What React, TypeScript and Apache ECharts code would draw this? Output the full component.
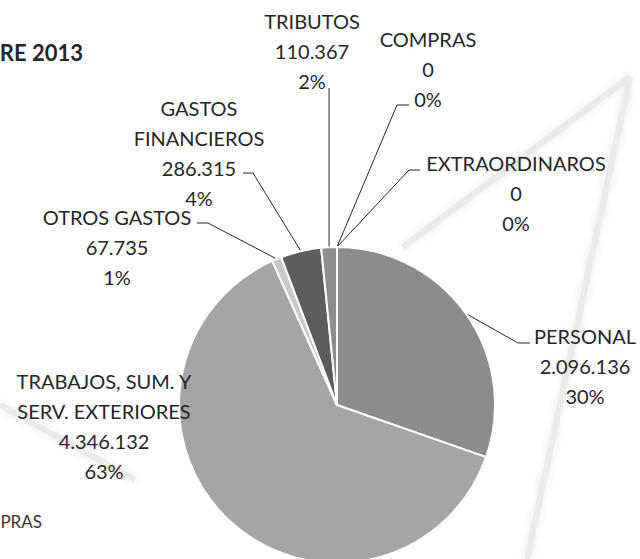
import React, { useEffect, useRef } from "react";
import * as echarts from "echarts";

// ---- data ----
const categories = [
  "PERSONAL",
  "TRABAJOS, SUM. Y\nSERV. EXTERIORES",
  "OTROS GASTOS",
  "GASTOS\nFINANCIEROS",
  "TRIBUTOS",
  "COMPRAS",
  "EXTRAORDINAROS",
];
const values = [2096136, 4346132, 67735, 286315, 110367, 0, 0];

// ---- styles / layout ----
const sliceColors = ["#8c8c8c", "#a5a5a5", "#c9c9c9", "#5d5d5d", "#8e8e8e", "#7a7a7a", "#6a6a6a"];
type Anchor = { x: number; y: number; bend?: number[]; end?: number[]; vertical?: number };
const labelAnchors: Anchor[] = [
  { x: 585, y: 366, bend: [518, 343], end: [530, 343] },
  { x: 104, y: 426 },
  { x: 117, y: 247, bend: [208, 223], end: [197, 223] },
  { x: 199, y: 153, bend: [253, 173], end: [243, 173] },
  { x: 312, y: 51, vertical: 88 },
  { x: 428, y: 69, bend: [397, 105], end: [409, 105] },
  { x: 516, y: 193, bend: [409, 170], end: [420, 170] },
];

const fmt = (n: number) => String(n).replace(/\B(?=(\d{3})+(?!\d))/g, ".");
const FONT = "Lato";

export default function App() {
  const ref = useRef<HTMLDivElement>(null);
  useEffect(() => {
    if (!ref.current) return;
    const chart = echarts.init(ref.current, undefined, { renderer: "svg" });
    const wm = { stroke: "#ebebeb", lineWidth: 6, shadowBlur: 8, shadowColor: "#e8e8e8" };
    chart.setOption({
      animation: false,
      backgroundColor: "#ffffff",
      graphic: [
        { type: "line", z: -10, shape: { x1: 403, y1: 247, x2: 630, y2: 77 }, style: wm },
        { type: "line", z: -10, shape: { x1: 630, y1: 77, x2: 527, y2: 559 }, style: wm },
        { type: "line", z: -10, shape: { x1: 0, y1: 405, x2: 135, y2: 480 }, style: wm },
        {
          type: "text", x: 83, y: 52,
          style: { text: "RE 2013", fontFamily: FONT, fontWeight: "bold", fontSize: 22, fill: "#262626", align: "right", verticalAlign: "middle" },
        },
        {
          type: "text", x: 42, y: 521,
          style: { text: "PRAS", fontFamily: FONT, fontSize: 17, fill: "#333333", align: "right", verticalAlign: "middle" },
        },
      ],
      series: [
        {
          type: "pie",
          center: [337, 405],
          radius: 158,
          startAngle: 90,
          clockwise: true,
          avoidLabelOverlap: false,
          percentPrecision: 0,
          itemStyle: { borderColor: "#ffffff", borderWidth: 2 },
          label: {
            show: true,
            position: "outside",
            fontFamily: FONT,
            fontSize: 20,
            lineHeight: 30,
            color: "#262626",
            align: "center",
            formatter: (p: any) => `${p.name}\n${fmt(p.value)}\n${p.percent}%`,
          },
          labelLine: { show: true, lineStyle: { color: "#262626", width: 1 } },
          labelLayout: (p: any) => {
            const a = labelAnchors[p.dataIndex];
            const res: any = { x: a.x, y: a.y, align: "center", verticalAlign: "middle" };
            const start = p.labelLinePoints && p.labelLinePoints[0];
            if (start) {
              if (a.vertical != null) {
                res.labelLinePoints = [start, [start[0], a.vertical], [start[0], a.vertical]];
              } else if (a.bend && a.end) {
                res.labelLinePoints = [start, a.bend, a.end];
              }
            }
            return res;
          },
          data: categories.map((name, i) => ({
            name,
            value: values[i],
            itemStyle: { color: sliceColors[i] },
            labelLine: { show: i !== 1 },
          })),
        },
      ],
    });
    return () => chart.dispose();
  }, []);
  return <div ref={ref} style={{ position: "absolute", left: 0, top: 0, width: 640, height: 559 }} />;
}
